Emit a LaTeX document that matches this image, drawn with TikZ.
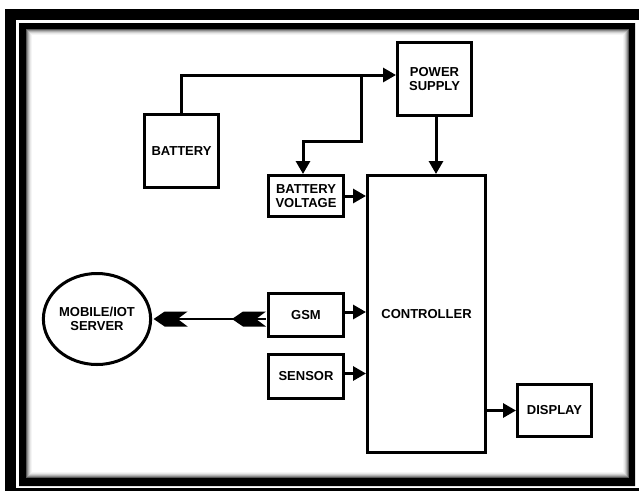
\documentclass[tikz,border=0pt]{standalone}
\usepackage{fontspec}
\setmainfont{Liberation Sans}
\usetikzlibrary{arrows.meta,shapes.geometric}
\begin{document}
\begin{tikzpicture}[x=1pt,y=-1pt,
  lbl/.style={font=\bfseries\fontsize{13}{14.5}\selectfont, align=center, inner sep=0pt},
  blk/.style={lbl, draw, line width=3pt, minimum width=#1},
  arr/.style={line width=3pt, -{Triangle[length=13pt,width=14pt]}},
  link/.style={line width=2.6pt},
  fletchhead/.style={fill=black, line join=round}]
\useasboundingbox (0,0) rectangle (639,491);
\fill[white] (0,0) rectangle (639,491);
% outer frame bands
\fill[black] (5,9) rectangle (639,20);
\fill[black] (5,9) rectangle (16,491);
\fill[black] (5,488) rectangle (639,491);
% inner frame
\fill[black,even odd rule] (19,23) rectangle (635,486) (26,29) rectangle (629,478);
\foreach \i/\c in {1/65,2/45,3/30,4/18,5/9,6/4}{
  \draw[black!\c, line width=1pt] (26+\i-0.5,29+\i-0.5) rectangle (629-\i+0.5,478-\i+0.5);
}
% blocks
\node[blk, minimum width=74pt, minimum height=73pt] (bat) at (181.5,151) {BATTERY};
\node[blk, minimum width=74pt, minimum height=73pt] (ps) at (434.5,79) {POWER\\SUPPLY};
\node[blk, minimum width=75pt, minimum height=41pt] (bv) at (306,196) {BATTERY\\VOLTAGE};
\node[blk, minimum width=75pt, minimum height=43pt] (gsm) at (306,315) {GSM};
\node[blk, minimum width=75pt, minimum height=44pt] (sen) at (306,376.5) {SENSOR};
\node[blk, minimum width=118pt, minimum height=277pt] (ctrl) at (426.5,314) {CONTROLLER};
\node[blk, minimum width=74pt, minimum height=52pt] (disp) at (554.5,410.5) {DISPLAY};
\node[lbl, draw, ellipse, line width=3pt, minimum width=86pt, minimum height=91pt] (srv) at (97,319) {MOBILE/IOT\\SERVER};
% connectors
\coordinate (j) at (361,75);
\coordinate (k) at (361,141);
\draw[arr] (bat.north) |- ([yshift=4pt]ps.west);
\draw[arr] (j) -- (k) -| ([xshift=-3pt]bv.north);
\draw[arr] ([xshift=1.5pt]ps.south) -- ([xshift=1.5pt]ps.south |- ctrl.north);
\draw[arr] (bv.east) -- (bv.east -| ctrl.west);
\draw[arr] ([yshift=3pt]gsm.east) -- ([yshift=3pt]gsm.east -| ctrl.west);
\draw[arr] ([yshift=3pt]sen.east) -- ([yshift=3pt]sen.east -| ctrl.west);
\draw[arr] (disp.west -| ctrl.east) -- (disp.west);
% GSM <-> server link with fletched heads
\draw[link] ([xshift=-1.5pt]gsm.west |- srv.east) -- ([xshift=10pt]srv.east);
\fill[fletchhead] ([xshift=1.5pt]srv.east) -- ++(11,-7.5) -- ++(23,0) -- ++(-10,7.5) -- ++(10,7.5) -- ++(-23,0) -- cycle;
\fill[fletchhead] ([xshift=-35pt]gsm.west |- srv.east) -- ++(11,-7.5) -- ++(23,0) -- ++(-10,7.5) -- ++(10,7.5) -- ++(-23,0) -- cycle;
\end{tikzpicture}
\end{document}
